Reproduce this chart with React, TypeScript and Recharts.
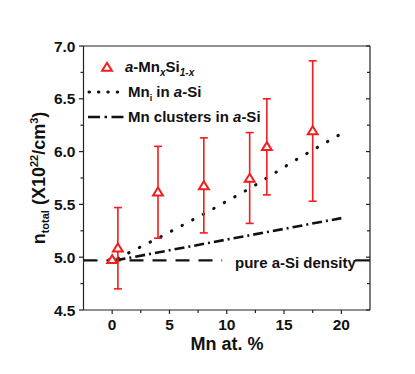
import {
  ComposedChart,
  XAxis,
  YAxis,
  Scatter,
  Line,
  ErrorBar,
  ReferenceLine,
} from "recharts";

// measured a-MnxSi1-x densities
const mnPercent = [0, 0.5, 4, 8, 12, 13.5, 17.5];
const density = [4.98, 5.09, 5.62, 5.68, 5.75, 6.05, 6.2];
const errLow = [4.98, 4.7, 5.18, 5.23, 5.32, 5.59, 5.53];
const errHigh = [4.98, 5.47, 6.05, 6.13, 6.18, 6.5, 6.86];

// model: interstitial Mn in a-Si
const interstitialX = [0.5, 4, 8, 12, 16, 20];
const interstitialY = [4.99, 5.18, 5.41, 5.65, 5.92, 6.17];

// model: Mn clusters in a-Si
const clusterX = [0.3, 20];
const clusterY = [4.97, 5.37];

const pureSiDensity = 4.97;

const xTicks = [0, 2.5, 5, 7.5, 10, 12.5, 15, 17.5, 20];
const yTicks = [4.5, 4.75, 5, 5.25, 5.5, 5.75, 6, 6.25, 6.5, 6.75, 7];

const points = mnPercent.map((x, i) => ({
  x,
  y: density[i],
  err: [density[i] - errLow[i], errHigh[i] - density[i]],
}));
const interstitialData = interstitialX.map((x, i) => ({ x, y: interstitialY[i] }));
const clusterData = clusterX.map((x, i) => ({ x, y: clusterY[i] }));

const FONT = "'Liberation Sans', Arial, Helvetica, sans-serif";
const AXIS = "#222";
const RED = "#f21d1d";

const isMajorX = (v: number) => Math.abs(v % 5) < 1e-6;
const isMajorY = (v: number) => Math.abs((v * 2) % 1) < 1e-6;

function BottomTick({ x, y, payload }: any) {
  const major = isMajorX(payload.value);
  return (
    <g>
      <line x1={x} x2={x} y1={y} y2={y + (major ? 4 : 3)} stroke={AXIS} strokeWidth={1.2} />
      {major && (
        <text x={x} y={y + 20} textAnchor="middle" fontFamily={FONT} fontWeight="bold" fontSize={15.5} fill="#111">
          {payload.value}
        </text>
      )}
    </g>
  );
}

function TopTick({ x, y, payload }: any) {
  const major = isMajorX(payload.value);
  return <line x1={x} x2={x} y1={y} y2={y + (major ? 4 : 3)} stroke={AXIS} strokeWidth={1.2} />;
}

function LeftTick({ x, y, payload }: any) {
  const major = isMajorY(payload.value);
  return (
    <g>
      <line x1={x - (major ? 4.5 : 3)} x2={x} y1={y} y2={y} stroke={AXIS} strokeWidth={1.2} />
      {major && (
        <text x={x - 8} y={y} dy="0.36em" textAnchor="end" fontFamily={FONT} fontWeight="bold" fontSize={15.5} fill="#111">
          {payload.value.toFixed(1)}
        </text>
      )}
    </g>
  );
}

function RightTick({ x, y, payload }: any) {
  const major = isMajorY(payload.value);
  return <line x1={x - (major ? 4 : 3)} x2={x} y1={y} y2={y} stroke={AXIS} strokeWidth={1.2} />;
}

function Triangle({ cx, cy }: any) {
  if (cx == null || cy == null) return null;
  return (
    <polygon
      points={`${cx},${cy - 4.2} ${cx + 4.9},${cy + 3.8} ${cx - 4.9},${cy + 3.8}`}
      fill="#fff"
      stroke={RED}
      strokeWidth={2}
      strokeLinejoin="miter"
    />
  );
}

export default function App() {
  return (
    <div style={{ position: "absolute", left: 0, top: 0, width: 415, height: 374, background: "#fff" }}>
      <ComposedChart width={415} height={374} margin={{ top: 0, right: 0, bottom: 0, left: 0 }}>
        <XAxis
          xAxisId="bottom"
          dataKey="x"
          type="number"
          domain={[-2.5, 22.5]}
          ticks={xTicks}
          interval={0}
          height={64}
          tickSize={0}
          tickMargin={0}
          tickLine={false}
          tick={<BottomTick />}
          stroke={AXIS}
          strokeWidth={1.2}
          allowDataOverflow
        />
        <XAxis
          xAxisId="top"
          orientation="top"
          type="number"
          domain={[-2.5, 22.5]}
          ticks={xTicks}
          interval={0}
          height={46}
          tickSize={0}
          tickMargin={0}
          tickLine={false}
          tick={<TopTick />}
          stroke={AXIS}
          strokeWidth={1.2}
          allowDataOverflow
        />
        <YAxis
          yAxisId="left"
          type="number"
          domain={[4.5, 7]}
          ticks={yTicks}
          interval={0}
          width={83.5}
          tickSize={0}
          tickMargin={0}
          tickLine={false}
          tick={<LeftTick />}
          stroke={AXIS}
          strokeWidth={1.2}
          allowDataOverflow
        />
        <YAxis
          yAxisId="right"
          orientation="right"
          type="number"
          domain={[4.5, 7]}
          ticks={yTicks}
          interval={0}
          width={45}
          tickSize={0}
          tickMargin={0}
          tickLine={false}
          tick={<RightTick />}
          stroke={AXIS}
          strokeWidth={1.2}
          allowDataOverflow
        />

        <ReferenceLine
          xAxisId="bottom"
          yAxisId="left"
          segment={[{ x: -2.5, y: pureSiDensity }, { x: 9.6, y: pureSiDensity }]}
          stroke="#111"
          strokeWidth={2.2}
          strokeDasharray="14 9"
        />
        <ReferenceLine
          xAxisId="bottom"
          yAxisId="left"
          segment={[{ x: 21.2, y: pureSiDensity }, { x: 22.5, y: pureSiDensity }]}
          stroke="#111"
          strokeWidth={2.2}
        />

        <Line
          xAxisId="bottom"
          yAxisId="left"
          data={interstitialData}
          dataKey="y"
          type="linear"
          stroke="#111"
          strokeWidth={3}
          strokeDasharray="0.5 11.5"
          strokeLinecap="round"
          dot={false}
          isAnimationActive={false}
        />
        <Line
          xAxisId="bottom"
          yAxisId="left"
          data={clusterData}
          dataKey="y"
          type="linear"
          stroke="#111"
          strokeWidth={2.6}
          strokeDasharray="10 4 2 4"
          dot={false}
          isAnimationActive={false}
        />

        <Scatter
          xAxisId="bottom"
          yAxisId="left"
          data={points}
          dataKey="y"
          shape={<Triangle />}
          isAnimationActive={false}
        >
          <ErrorBar dataKey="err" direction="y" width={4} stroke={RED} strokeWidth={1.6} isAnimationActive={false} />
        </Scatter>
      </ComposedChart>

      <svg
        width={415}
        height={374}
        style={{ position: "absolute", left: 0, top: 0, pointerEvents: "none" }}
        fontFamily={FONT}
        fontWeight="bold"
        fill="#111"
      >
        {/* legend */}
        <polygon points="107,62.8 111.9,70.8 102.1,70.8" fill="#fff" stroke={RED} strokeWidth={2} />
        <text x={125} y={72} fontSize={15}>
          <tspan fontStyle="italic">a</tspan>
          <tspan>-Mn</tspan>
          <tspan fontSize={10} fontStyle="italic" dy={4}>x</tspan>
          <tspan dy={-4}>Si</tspan>
          <tspan fontSize={10} fontStyle="italic" dy={4}>1-x</tspan>
        </text>

        <line x1={89} x2={118} y1={92} y2={92} stroke="#111" strokeWidth={3} strokeDasharray="0.5 8.9" strokeLinecap="round" />
        <text x={128} y={97} fontSize={15}>
          <tspan>Mn</tspan>
          <tspan fontSize={9} dy={4}>i</tspan>
          <tspan dy={-4}> in </tspan>
          <tspan fontStyle="italic">a</tspan>
          <tspan>-Si</tspan>
        </text>

        <line x1={88} x2={127} y1={117} y2={117} stroke="#111" strokeWidth={2.6} strokeDasharray="12 4.5 2.5 4.5" />
        <text x={128} y={122} fontSize={15}>
          <tspan>Mn clusters in </tspan>
          <tspan fontStyle="italic">a</tspan>
          <tspan>-Si</tspan>
        </text>

        <text x={235} y={268} fontSize={15}>
          pure a-Si density
        </text>

        {/* axis titles */}
        <text x={227} y={350} fontSize={18} textAnchor="middle">
          Mn at. %
        </text>
        <text transform="translate(45,178) rotate(-90)" fontSize={18} textAnchor="middle">
          <tspan>n</tspan>
          <tspan fontSize={11} dy={4}>total</tspan>
          <tspan dy={-4}> (X10</tspan>
          <tspan fontSize={11} dy={-7}>22</tspan>
          <tspan dy={7}>/cm</tspan>
          <tspan fontSize={11} dy={-7}>3</tspan>
          <tspan dy={7}>)</tspan>
        </text>
      </svg>
    </div>
  );
}
